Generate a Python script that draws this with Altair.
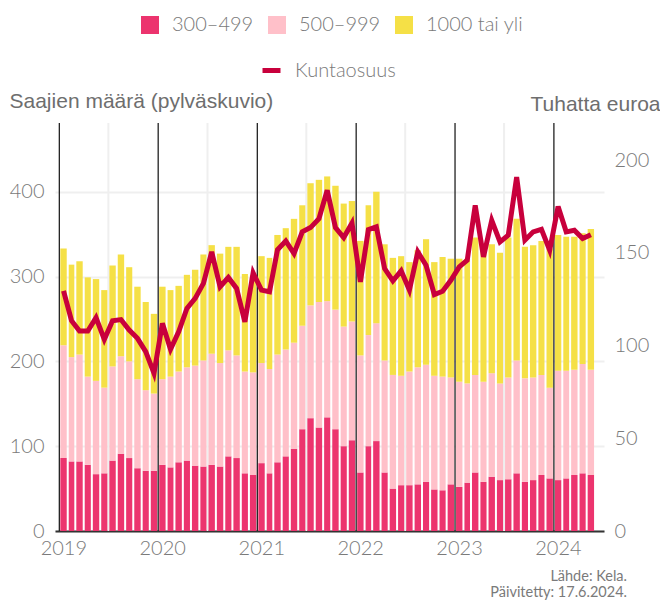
import altair as alt
import pandas as pd

# ---- data (monthly, Jan 2019 – May 2024) ----
start_month = "2019-01-01"
n_months = 65

cats = ["300\u2013499", "500\u2013999", "1000 tai yli"]
colors = ["#ec346e", "#ffc0c9", "#f5e046"]
line_color = "#c8003c"

r300 = [86, 82, 82, 78, 67, 68, 83, 91, 86, 74, 71, 71,
        78, 75, 81, 83, 77, 76, 78, 76, 88, 86, 68, 66,
        80, 68, 81, 88, 97, 120, 133, 122, 134, 120, 100, 107,
        69, 100, 106, 69, 50, 54, 54, 55, 58, 49, 48, 55,
        52, 57, 69, 58, 64, 60, 61, 68, 58, 60, 66, 62,
        60, 62, 66, 68, 66]
r500 = [133, 123, 126, 104, 110, 101, 111, 115, 114, 105, 95, 91,
        101, 107, 107, 110, 118, 125, 131, 122, 125, 121, 120, 121,
        118, 123, 127, 126, 125, 122, 133, 148, 137, 141, 141, 140,
        138, 131, 139, 132, 134, 129, 134, 138, 138, 134, 134, 126,
        124, 117, 115, 118, 122, 114, 120, 133, 122, 121, 118, 107,
        129, 127, 124, 129, 124]
r1000 = [114, 109, 110, 117, 120, 115, 119, 120, 111, 109, 104, 94,
         109, 102, 101, 109, 113, 125, 128, 129, 122, 128, 115, 115,
         126, 131, 141, 143, 146, 142, 144, 144, 147, 146, 145, 142,
         135, 153, 155, 137, 138, 141, 129, 138, 148, 134, 141, 140,
         145, 147, 162, 156, 152, 154, 165, 167, 155, 156, 158, 164,
         160, 158, 157, 154, 166]
kuntaosuus = [129.5, 113.4, 107.8, 107.8, 115.0, 103.3, 113.4, 114.0, 108.3, 103.9, 96.7, 85.0,
              112.0, 98.0, 107.4, 120.0, 125.4, 133.5, 150.5, 131.7, 136.7, 130.8, 112.8, 139.2,
              129.9, 129.0, 151.7, 156.4, 149.6, 161.3, 163.6, 168.4, 183.7, 163.6, 158.2, 166.0,
              134.3, 162.5, 164.0, 141.5, 134.9, 140.3, 129.9, 150.5, 143.3, 127.5, 129.3, 135.2,
              142.4, 146.0, 175.6, 147.8, 167.5, 155.9, 159.5, 190.8, 156.8, 161.3, 162.7, 151.4,
              175.0, 161.3, 162.2, 157.7, 159.8]
years = [2019, 2020, 2021, 2022, 2023, 2024]
mid_years = [2019, 2020, 2021, 2022, 2023]
source_lines = ["L\u00e4hde: Kela.", "P\u00e4ivitetty: 17.6.2024."]

# ---- tables ----
months = pd.date_range(start_month, periods=n_months, freq="MS")
ends = months + pd.offsets.MonthBegin(1)
mids = months + (ends - months) / 2

rows = []
for i in range(n_months):
    for k, (c, vals) in enumerate(zip(cats, [r300, r500, r1000])):
        rows.append({"start": months[i], "end": ends[i], "cat": c, "k": k, "v": vals[i]})
bars_df = pd.DataFrame(rows)
line_df = pd.DataFrame({"mid": mids, "kunta": kuntaosuus, "series": "Kuntaosuus"})
year_df = pd.DataFrame({"d": [pd.Timestamp(year=y, month=1, day=1) for y in years]})
midyear_df = pd.DataFrame({"d": [pd.Timestamp(year=y, month=7, day=1) for y in mid_years]})

xscale = alt.Scale(domain=[alt.DateTime(year=2018, month=12, date=16),
                           alt.DateTime(year=2024, month=7, date=4)], nice=False)

LABEL_FONT = "Lato"
GREY = "#7a7a7a"

xaxis = alt.Axis(values=[alt.DateTime(year=y, month=1, date=1) for y in years],
                 format="%Y", title=None, grid=False, ticks=False,
                 domain=True, domainColor="#333333", domainWidth=2,
                 labelFont=LABEL_FONT, labelFontSize=20, labelColor=GREY,
                 labelFontWeight=300, labelBaseline="top", labelPadding=7,
                 labelOffset=4, labelAlign="center")

midrules = alt.Chart(midyear_df).mark_rule(color="#efefef", strokeWidth=2).encode(
    x=alt.X("d:T", scale=xscale, axis=xaxis))

bars = alt.Chart(bars_df).transform_stack(
    stack="v", groupby=["start"], as_=["y0", "y1"], sort=[alt.SortField("k", order="ascending")]
).mark_bar(xOffset=1, x2Offset=-1).encode(
    x=alt.X("start:T", scale=xscale, axis=xaxis),
    x2="end:T",
    y=alt.Y("y0:Q", scale=alt.Scale(domain=[0, 481], nice=False),
            axis=alt.Axis(values=[0, 100, 200, 300, 400], grid=True, gridColor="#efefef",
                          gridWidth=2, domain=False, ticks=False, labelPadding=11,
                          labelFont=LABEL_FONT, labelFontSize=20, labelColor=GREY,
                          labelFontWeight=300,
                          title="Saajien m\u00e4\u00e4r\u00e4 (pylv\u00e4skuvio)",
                          titleAngle=0, titleX=-46, titleY=-16, titleAlign="left",
                          titleBaseline="alphabetic", titleFont="Liberation Sans",
                          titleFontSize=21, titleFontWeight="normal", titleColor="#6e6e6e")),
    y2="y1:Q",
    color=alt.Color("cat:N", scale=alt.Scale(domain=cats, range=colors),
                    legend=alt.Legend(orient="none", legendX=85, legendY=-108,
                                      direction="horizontal", title=None,
                                      symbolType="square", symbolSize=324,
                                      symbolStrokeWidth=0, labelOffset=12,
                                      columnPadding=13, padding=0,
                                      labelFont=LABEL_FONT, labelFontSize=20,
                                      labelFontWeight=300, labelColor=GREY)),
)

yearrules = alt.Chart(year_df).mark_rule(color="#222222", strokeWidth=1.3).encode(
    x=alt.X("d:T", scale=xscale, axis=xaxis))

line = alt.Chart(line_df).mark_line(strokeWidth=5).encode(
    x=alt.X("mid:T", scale=xscale, axis=xaxis),
    y=alt.Y("kunta:Q", scale=alt.Scale(domain=[0, 220], nice=False),
            axis=alt.Axis(orient="right", values=[0, 50, 100, 150, 200], grid=False,
                          domain=False, ticks=False, labelPadding=10,
                          labelFont=LABEL_FONT, labelFontSize=20, labelColor=GREY,
                          labelFontWeight=300,
                          title="Tuhatta euroa", titleAngle=0, titleX=56, titleY=-13,
                          titleAlign="right", titleBaseline="alphabetic",
                          titleFont="Liberation Sans", titleFontSize=21,
                          titleFontWeight="normal", titleColor="#6e6e6e")),
    stroke=alt.Stroke("series:N", scale=alt.Scale(domain=["Kuntaosuus"], range=[line_color]),
                      legend=alt.Legend(orient="none", legendX=205, legendY=-64,
                                        title=None, symbolType="stroke", symbolSize=324,
                                        symbolStrokeWidth=5, labelOffset=12, padding=0,
                                        labelFont=LABEL_FONT, labelFontSize=20,
                                        labelFontWeight=300, labelColor=GREY)),
)

src1 = alt.Chart(pd.DataFrame({"t": [source_lines[0]]})).mark_text(
    align="right", baseline="middle", font=LABEL_FONT, fontSize=14.5, color=GREY).encode(
    text="t:N", x=alt.value(572), y=alt.value(454))
src2 = alt.Chart(pd.DataFrame({"t": [source_lines[1]]})).mark_text(
    align="right", baseline="middle", font=LABEL_FONT, fontSize=14.5, color=GREY).encode(
    text="t:N", x=alt.value(572), y=alt.value(470))

chart = alt.layer(midrules, bars, yearrules, line, src1, src2).resolve_scale(
    y="independent", color="independent", stroke="independent"
).properties(
    width=549, height=408,
    padding={"left": 47, "top": 115, "right": 56, "bottom": 69},
    autosize=alt.AutoSizeParams(type="none"),
).configure_view(stroke=None)

chart.save("out.html", embed_options={"renderer": "svg", "actions": False})
